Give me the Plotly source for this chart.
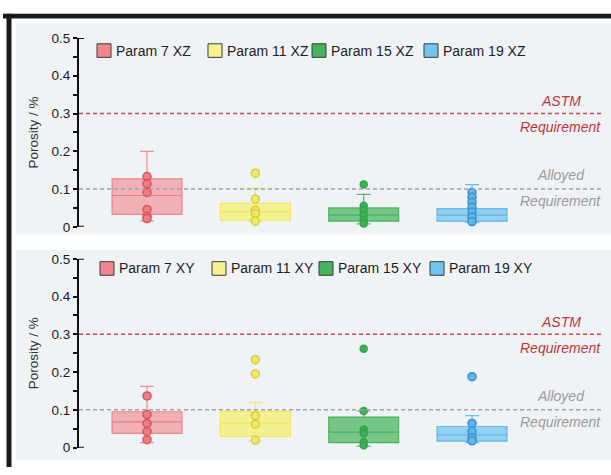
import plotly.graph_objects as go

# ---- data ----------------------------------------------------------------
categories = ["Param 7", "Param 11", "Param 15", "Param 19"]
positions = [0, 1, 2, 3]

# XZ build orientation: box statistics (porosity, %)
xz_q1 = [0.033, 0.018, 0.015, 0.015]
xz_median = [0.083, 0.040, 0.031, 0.031]
xz_q3 = [0.127, 0.062, 0.050, 0.048]
xz_lower = [0.016, 0.015, 0.008, 0.012]
xz_upper = [0.200, 0.102, 0.086, 0.112]
xz_points = [
    [0.133, 0.114, 0.091, 0.046, 0.028, 0.022],
    [0.142, 0.074, 0.044, 0.035, 0.015],
    [0.112, 0.056, 0.044, 0.031, 0.018, 0.009],
    [0.091, 0.078, 0.065, 0.052, 0.039, 0.026, 0.014],
]

# XY build orientation
xy_q1 = [0.038, 0.030, 0.013, 0.017]
xy_median = [0.068, 0.065, 0.041, 0.034]
xy_q3 = [0.095, 0.096, 0.081, 0.056]
xy_lower = [0.013, 0.018, 0.004, 0.013]
xy_upper = [0.162, 0.120, 0.097, 0.085]
xy_points = [
    [0.137, 0.088, 0.064, 0.043, 0.021],
    [0.233, 0.195, 0.085, 0.062, 0.020],
    [0.262, 0.097, 0.048, 0.038, 0.015, 0.006],
    [0.188, 0.064, 0.043, 0.026, 0.018],
]

astm_limit = 0.3
alloyed_limit = 0.1
y_ticks = [0, 0.1, 0.2, 0.3, 0.4, 0.5]
y_tick_text = ["0", "0.1", "0.2", "0.3", "0.4", "0.5"]

# ---- styles --------------------------------------------------------------
W, H = 611, 475
box_fill = ["rgba(240,115,122,0.52)", "rgba(246,240,80,0.62)",
            "rgba(70,182,92,0.72)", "rgba(100,190,236,0.66)"]
box_line = ["rgba(236,110,118,0.75)", "rgba(236,228,80,0.8)",
            "rgba(62,172,84,0.85)", "rgba(85,178,230,0.85)"]
pt_fill = ["#ea7f86", "#efea6a", "#3db357", "#62b6e8"]
pt_line = ["#d9545d", "#d6cf3a", "#33a24d", "#3a8fcf"]
pt_size = [8, 8, 7, 8]
swatch_fill = ["#f2868c", "#f6f38e", "#46b45e", "#72c4ee"]

FONT = "Liberation Sans, Arial, sans-serif"
panel_bg = "#f0f3f6"

x_range = [-0.628, 4.209]
x_dom = [79 / W, 603 / W]


def ydom(top_px, bot_px):
    return [1 - bot_px / H, 1 - top_px / H]


panels = [
    dict(suffix="XZ", q1=xz_q1, med=xz_median, q3=xz_q3, lo=xz_lower,
         hi=xz_upper, pts=xz_points, dom=ydom(32, 227), xa="x", ya="y",
         swatch_x=[97, 208, 312, 424], legend_py=45, bg=(17, 235)),
    dict(suffix="XY", q1=xy_q1, med=xy_median, q3=xy_q3, lo=xy_lower,
         hi=xy_upper, pts=xy_points, dom=ydom(260, 455), xa="x2", ya="y2",
         swatch_x=[100, 212, 319, 430], legend_py=270, bg=(251, 468)),
]

fig = go.Figure()
shapes = []
annotations = []

for p in panels:
    for i, cat in enumerate(categories):
        fig.add_trace(go.Box(
            x=[positions[i]], q1=[p["q1"][i]], median=[p["med"][i]],
            q3=[p["q3"][i]], lowerfence=[p["lo"][i]], upperfence=[p["hi"][i]],
            width=0.646, whiskerwidth=0.2, boxpoints=False,
            fillcolor=box_fill[i], line=dict(color=box_line[i], width=1.2),
            xaxis=p["xa"], yaxis=p["ya"], showlegend=False,
            name=f"{cat} {p['suffix']}",
        ))
        fig.add_trace(go.Scatter(
            x=[positions[i]] * len(p["pts"][i]), y=p["pts"][i], mode="markers",
            marker=dict(size=pt_size[i], color=pt_fill[i],
                        line=dict(color=pt_line[i], width=1.5)),
            xaxis=p["xa"], yaxis=p["ya"], showlegend=False, cliponaxis=False,
        ))

    # panel background
    shapes.append(dict(type="rect", xref="paper", yref="paper",
                       x0=16 / W, x1=1, y0=1 - p["bg"][1] / H, y1=1 - p["bg"][0] / H,
                       fillcolor=panel_bg, line=dict(width=0), layer="below"))

    xd = p["xa"] + " domain"
    # requirement lines
    shapes.append(dict(type="line", xref=xd, yref=p["ya"], x0=0, x1=1,
                       y0=astm_limit, y1=astm_limit,
                       line=dict(color="#c9474a", width=1.5, dash="4px,3px")))
    shapes.append(dict(type="line", xref=xd, yref=p["ya"], x0=0, x1=1,
                       y0=alloyed_limit, y1=alloyed_limit,
                       line=dict(color="#a3a3a3", width=1.5, dash="4px,3px")))
    # bracket caps at the ends of the y axis
    for yv in (0, 0.5):
        shapes.append(dict(type="line", xref=xd, yref=p["ya"], x0=0, x1=5 / 524,
                           y0=yv, y1=yv, line=dict(color="#111", width=2)))

    # requirement labels
    lab_x = 3.82
    for txt, yv, col in [("ASTM", 0.332, "#c0353a"), ("Requirement", 0.265, "#c0353a"),
                         ("Alloyed", 0.137, "#9a9a9a"), ("Requirement", 0.068, "#9a9a9a")]:
        annotations.append(dict(text=f"<i>{txt}</i>", x=lab_x, y=yv, xref=p["xa"],
                                yref=p["ya"], showarrow=False, xanchor="center",
                                yanchor="middle",
                                font=dict(family=FONT, size=14, color=col)))

    # y-axis title
    annotations.append(dict(text="Porosity / %", x=33 / W, y=sum(p["dom"]) / 2,
                            xref="paper", yref="paper", textangle=-90,
                            showarrow=False, xanchor="center", yanchor="middle",
                            font=dict(family=FONT, size=13.5, color="#333")))

    # legend: swatch + label for each parameter set
    for i, cat in enumerate(categories):
        sx = p["swatch_x"][i]
        py = p["legend_py"]
        shapes.append(dict(type="rect", xref="paper", yref="paper",
                           x0=sx / W, x1=(sx + 14) / W,
                           y0=1 - (py + 7) / H, y1=1 - (py - 7) / H,
                           fillcolor=swatch_fill[i],
                           line=dict(color="#3a3a3a", width=1)))
        annotations.append(dict(text=f"{cat} {p['suffix']}", x=(sx + 17) / W,
                                y=1 - py / H, xref="paper", yref="paper",
                                showarrow=False, xanchor="left", yanchor="middle",
                                font=dict(family=FONT, size=14, color="#1e1e1e")))

# black frame along the top and left edges
shapes.append(dict(type="rect", xref="paper", yref="paper", x0=3 / W, x1=1,
                   y0=1 - 12 / H, y1=1 - 7 / H, fillcolor="#1a1a1a",
                   line=dict(width=0)))
shapes.append(dict(type="rect", xref="paper", yref="paper", x0=6.5 / W,
                   x1=11.5 / W, y0=0, y1=1 - 7 / H, fillcolor="#1a1a1a",
                   line=dict(width=0)))

yaxis_style = dict(range=[0, 0.5], tickvals=y_ticks, ticktext=y_tick_text,
                   showline=True, linecolor="#111", linewidth=2,
                   ticks="outside", ticklen=4, tickwidth=1.5, tickcolor="#111",
                   minor=dict(dtick=0.05, ticks="outside", ticklen=4,
                              tickwidth=1.5, tickcolor="#111"),
                   showgrid=False, zeroline=False,
                   tickfont=dict(family=FONT, size=13.5, color="#1a1a1a"))
xaxis_style = dict(range=x_range, domain=x_dom, visible=False,
                   showgrid=False, zeroline=False)

fig.update_layout(
    width=W, height=H, margin=dict(l=0, r=0, t=0, b=0),
    paper_bgcolor="white", plot_bgcolor="rgba(0,0,0,0)",
    showlegend=False,
    xaxis=dict(**xaxis_style, anchor="y"),
    xaxis2=dict(**xaxis_style, anchor="y2"),
    yaxis=dict(**yaxis_style, domain=panels[0]["dom"], anchor="x"),
    yaxis2=dict(**yaxis_style, domain=panels[1]["dom"], anchor="x2"),
    shapes=shapes, annotations=annotations,
)

fig.write_html("out.html")
